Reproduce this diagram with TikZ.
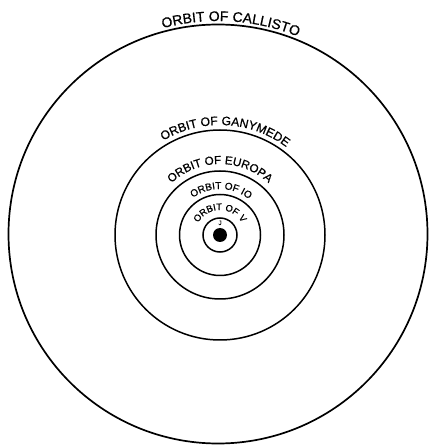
\documentclass[tikz,border=0pt]{standalone}
\usepackage{fontspec}
\usepackage{tikz}
\usetikzlibrary{calc,positioning,decorations.text}
\newfontfamily\letrero[FakeBold=0.6]{Liberation Sans}
\tikzset{
  orbita/.style={
    draw=black,
    line width=1.5pt
  },
  rotulo/.style={
    decorate,
    decoration={text along path, text align=center, text={#1}}
  }
}

\begin{document}
\begin{tikzpicture}[x=1pt,y=1pt]
\useasboundingbox (0,0) rectangle (430,445);
\coordinate (c) at (220,210);
\coordinate (co) at (218,211);
% orbitas
\draw[orbita, line width=1.7pt] (co) circle[radius=209.5];
\draw[orbita] (c) circle[radius=105];
\draw[orbita] (c) circle[radius=64];
\draw[orbita] (c) circle[radius=40.5];
\draw[orbita] (c) circle[radius=17];
% jupiter
\node[circle, fill=black, minimum size=14pt, inner sep=0pt] (jup) at (c) {};
\node[font=\letrero\fontsize{6.5}{6.5}\selectfont, above=2.5pt of jup, inner sep=0pt] (j) {J};
% rotulos
\path[rotulo={|\letrero\fontsize{14}{14}\selectfont|ORBIT OF CALLISTO}]
  ($(co)+(121.5:213)$) arc[start angle=121.5, end angle=51.5, radius=213];
\path[rotulo={|\letrero\fontsize{12.2}{12.2}\selectfont|ORBIT OF GANYMEDE}]
  ($(c)+(132:110)$) arc[start angle=132, end angle=42, radius=110];
\path[rotulo={|\letrero\fontsize{11.6}{11.6}\selectfont|ORBIT OF EUROPA}]
  ($(c)+(145:71)$) arc[start angle=145, end angle=35, radius=71];
\path[rotulo={|\letrero\fontsize{10}{10}\selectfont|ORBIT OF IO}]
  ($(c)+(150:46)$) arc[start angle=150, end angle=27, radius=46];
\path[rotulo={|\letrero\fontsize{9.4}{9.4}\selectfont|ORBIT OF V}]
  ($(c)+(175:25)$) arc[start angle=175, end angle=5, radius=25];
\end{tikzpicture}
\end{document}
